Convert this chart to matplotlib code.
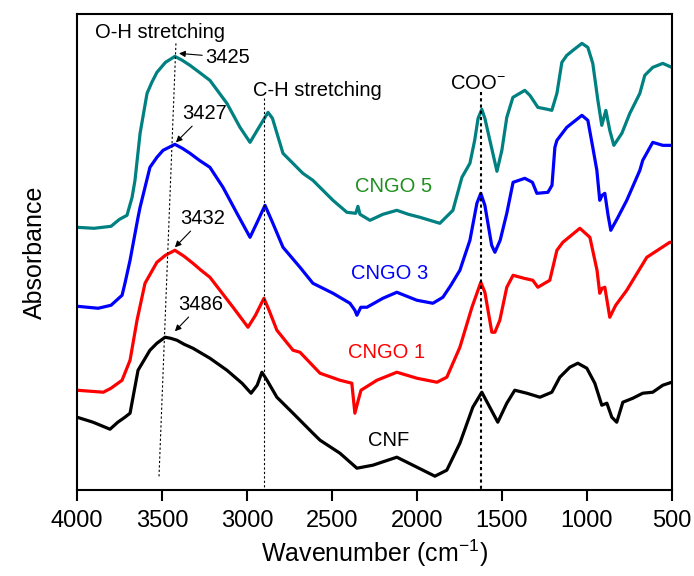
import matplotlib
matplotlib.use("Agg")
import matplotlib.pyplot as plt
import numpy as np

plt.rcParams['font.family'] = ['Liberation Sans', 'DejaVu Sans']
plt.rcParams['mathtext.fontset'] = 'custom'
plt.rcParams['mathtext.rm'] = 'Liberation Sans'
plt.rcParams['mathtext.it'] = 'Liberation Sans:italic'

# FTIR spectra, stacked (absorbance in arbitrary offset units)
cngo5_wn = [4000, 3900, 3800, 3750, 3706, 3676, 3659, 3629, 3588, 3560, 3530, 3480, 3424,
            3380, 3335, 3280, 3218, 3118, 3041, 2982, 2940, 2876, 2850, 2788, 2671, 2612,
            2494, 2412, 2360, 2347, 2335, 2276, 2200, 2118, 2050, 1982, 1865, 1788, 1735,
            1688, 1660, 1640, 1618, 1600, 1553, 1529, 1500, 1471, 1435, 1365, 1335, 1288,
            1230, 1206, 1176, 1147, 1118, 1082, 1029, 994, 965, 935, 912, 888, 865, 841,
            794, 747, 688, 659, 612, 553, 500]
cngo5_abs = [263, 262, 264, 271, 275, 293, 310, 357, 397, 408, 418, 428, 434,
             430, 425, 418, 410, 387, 363, 348, 360, 378, 372, 337, 317, 310,
             290, 278, 277, 284, 276, 270, 276, 280, 276, 273, 267, 280, 313,
             327, 350, 372, 381, 372, 337, 319, 340, 373, 393, 400, 395, 383,
             381, 380, 397, 428, 435, 440, 447, 443, 427, 390, 365, 380, 360, 345,
             357, 377, 397, 415, 423, 427, 423]

cngo3_wn = [4000, 3876, 3800, 3735, 3718, 3688, 3641, 3629, 3571, 3530, 3494, 3424, 3380,
            3335, 3280, 3218, 3141, 3059, 2982, 2940, 2894, 2850, 2788, 2688, 2612, 2494,
            2394, 2365, 2353, 2330, 2294, 2200, 2118, 2000, 1906, 1847, 1800, 1747, 1688,
            1647, 1624, 1600, 1560, 1541, 1510, 1471, 1434, 1365, 1320, 1294, 1229, 1205,
            1188, 1176, 1118, 1029, 994, 965, 941, 924, 910, 894, 875, 859, 820, 765, 688,
            671, 612, 553, 500]
cngo3_abs = [184, 182, 185, 195, 207, 230, 273, 283, 323, 333, 340, 346, 342,
             337, 330, 323, 303, 277, 253, 268, 285, 268, 243, 223, 207, 197,
             187, 180, 175, 183, 183, 192, 198, 190, 187, 193, 205, 220, 250,
             287, 297, 285, 245, 238, 250, 277, 308, 312, 308, 297, 298, 305,
             343, 350, 363, 375, 370, 343, 320, 290, 295, 297, 275, 260, 272, 290, 320,
             330, 348, 345, 345]

cngo1_wn = [4000, 3845, 3800, 3735, 3688, 3647, 3600, 3530, 3480, 3424, 3370, 3318, 3270,
            3218, 3082, 2994, 2950, 2900, 2870, 2824, 2729, 2688, 2570, 2453, 2383, 2365,
            2345, 2329, 2235, 2118, 2000, 1882, 1824, 1747, 1676, 1624, 1600, 1559, 1541,
            1512, 1471, 1434, 1370, 1318, 1288, 1218, 1176, 1141, 1041, 982, 940, 924, 910,
            894, 865, 830, 765, 647, 512, 500]
cngo1_abs = [100, 98, 102, 110, 130, 170, 207, 228, 235, 240, 234, 227, 220,
             213, 183, 163, 175, 192, 180, 160, 140, 138, 117, 110, 107, 77,
             90, 100, 110, 118, 112, 108, 113, 143, 183, 208, 198, 158, 158,
             170, 203, 215, 212, 210, 203, 210, 240, 248, 262, 253, 220, 197, 202,
             203, 173, 185, 200, 233, 248, 248]

cnf_wn = [4000, 3906, 3806, 3760, 3718, 3688, 3641, 3571, 3530, 3482, 3450, 3412, 3370,
          3318, 3218, 3118, 3029, 2976, 2940, 2912, 2882, 2824, 2729, 2612, 2570, 2453,
          2353, 2259, 2118, 2000, 1894, 1824, 1747, 1671, 1618, 1571, 1524, 1471, 1424,
          1353, 1276, 1206, 1159, 1100, 1053, 1000, 953, 912, 882, 853, 824, 788, 729,
          671, 612, 553, 500]
cnf_abs = [73, 68, 61, 68, 73, 77, 120, 140, 147, 153, 152, 150, 146,
           142, 132, 120, 107, 97, 105, 118, 110, 93, 77, 57, 50, 37,
           22, 25, 33, 23, 14, 20, 47, 83, 98, 83, 68, 87, 100,
           97, 93, 98, 113, 123, 127, 122, 107, 85, 87, 73, 68, 88, 92,
           97, 98, 105, 108]

series = [
    (cngo5_wn, cngo5_abs, '#008080', 'CNGO 5', '#1f8f1f', 2135, 304),
    (cngo3_wn, cngo3_abs, '#0000ff', 'CNGO 3', '#0000ff', 2159, 217),
    (cngo1_wn, cngo1_abs, '#ff0000', 'CNGO 1', '#ff0000', 2176, 138),
    (cnf_wn, cnf_abs, 'black', 'CNF', 'black', 2165, 50),
]

fig = plt.figure(figsize=(6.94, 5.76), dpi=100)
ax = fig.add_axes([0.111, 0.149, 0.857, 0.826])

for wn, ab, c, name, tc, lx, ly in series:
    ax.plot(wn, ab, color=c, lw=2.3, solid_joinstyle='round')
    ax.text(lx, ly, name, color=tc, fontsize=14.5, ha='center', va='center')

# peak guide lines
ax.plot([3418, 3518], [447, 12], color='black', lw=0.8, ls=(0, (2, 2)))
ax.plot([2900, 2900], [392, 0], color='black', lw=0.8, ls=(0, (2, 2)))
ax.plot([1620, 1620], [398, 0], color='black', lw=1.5, ls=(0, (1.5, 1.5)))

ax.text(3894, 458, 'O-H stretching', fontsize=14.5, ha='left', va='center')
ax.text(2965, 400, 'C-H stretching', fontsize=14.5, ha='left', va='center')
ax.text(1806, 407, 'COO$^{-}$', fontsize=14.5, ha='left', va='center')

arr = dict(arrowstyle='-|>', color='black', lw=0.8, mutation_scale=9, shrinkA=0, shrinkB=0)
ax.annotate('3425', xy=(3400, 437), xytext=(3247, 433), fontsize=14.5, va='center',
            arrowprops=arr)
ax.annotate('3427', xy=(3418, 348), xytext=(3382, 367), fontsize=14.5, va='bottom',
            arrowprops=arr)
ax.annotate('3432', xy=(3424, 243), xytext=(3394, 262), fontsize=14.5, va='bottom',
            arrowprops=arr)
ax.annotate('3486', xy=(3424, 159), xytext=(3406, 176), fontsize=14.5, va='bottom',
            arrowprops=arr)

ax.set_xlim(4000, 500)
ax.set_ylim(0, 476)
ax.set_xticks(np.arange(4000, 499, -500))
ax.set_yticks([])
ax.tick_params(axis='x', direction='out', length=8, width=1.5, labelsize=17, pad=6)
for s in ax.spines.values():
    s.set_linewidth(1.5)

ax.set_xlabel('Wavenumber (cm$^{-1}$)', fontsize=18, labelpad=4)
ax.set_ylabel('Absorbance', fontsize=18, labelpad=22)

fig.savefig('out.png', dpi=100)
